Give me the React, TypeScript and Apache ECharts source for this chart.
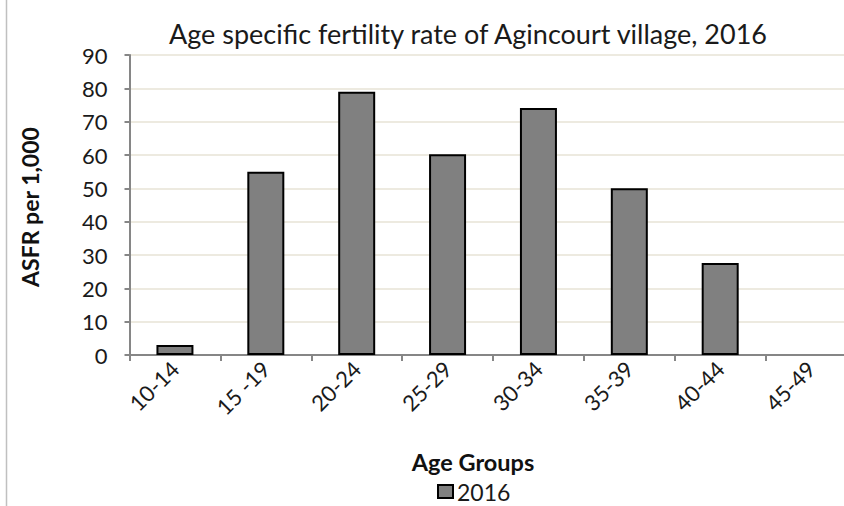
import React, { useEffect, useRef } from "react";
import * as echarts from "echarts";

const categories = ["10-14", "15 -19", "20-24", "25-29", "30-34", "35-39", "40-44", "45-49"];
const values2016 = [3, 55, 79, 60.2, 74.1, 50, 27.6, 0];
const seriesName = "2016";
const titleText = "Age specific fertility rate of Agincourt village, 2016";
const xName = "Age Groups";
const yName = "ASFR per 1,000";

const FONT = "Lato, 'Liberation Sans', sans-serif";

export default function App() {
  const ref = useRef<HTMLDivElement>(null);
  useEffect(() => {
    if (!ref.current) return;
    const chart = echarts.init(ref.current, null, { renderer: "svg" });
    chart.setOption({
      animation: false,
      backgroundColor: "#ffffff",
      title: {
        text: titleText,
        left: 463,
        textAlign: "center",
        top: 15,
        textStyle: { fontFamily: FONT, fontSize: 27, fontWeight: "normal", color: "#1a1a1a" },
      },
      legend: {
        data: [seriesName],
        left: 432,
        top: 475,
        itemWidth: 15,
        itemHeight: 13,
        itemGap: 6,
        icon: "rect",
        textStyle: { fontFamily: FONT, fontSize: 23, color: "#1a1a1a", padding: [0, 0, 0, -1] },
      },
      grid: { left: 129.5, top: 55, width: 727, height: 300, containLabel: false },
      xAxis: {
        type: "category",
        data: categories,
        axisLine: { lineStyle: { color: "#868686", width: 2 } },
        axisTick: { show: true, length: 6, lineStyle: { color: "#868686", width: 2 } },
        axisLabel: {
          rotate: 45,
          fontFamily: FONT,
          fontSize: 22,
          color: "#1a1a1a",
          margin: 10,
          interval: 0,
        },
      },
      yAxis: {
        type: "value",
        min: 0,
        max: 90,
        interval: 10,
        axisLine: { show: true, lineStyle: { color: "#868686", width: 2 } },
        axisTick: { show: true, length: 5, lineStyle: { color: "#868686", width: 2 } },
        axisLabel: { fontFamily: FONT, fontSize: 22, color: "#1a1a1a", margin: 22 },
        splitLine: { lineStyle: { color: "#EDEAE0", width: 2 } },
      },
      series: [
        {
          name: seriesName,
          type: "bar",
          data: values2016.map((v) => (v === 0 ? "-" : v)),
          barWidth: 37,
          itemStyle: { color: "#808080", borderColor: "#000", borderWidth: 2 },
        },
      ],
      graphic: [
        {
          type: "line",
          shape: { x1: 6.5, y1: 0, x2: 6.5, y2: 506 },
          style: { stroke: "#c0c0c0", lineWidth: 1.5 },
        },
        {
          type: "text",
          x: 473,
          y: 462,
          style: {
            text: xName,
            fontFamily: FONT,
            fontSize: 23.5,
            fontWeight: "bold",
            fill: "#111",
            align: "center",
            verticalAlign: "middle",
          },
        },
        {
          type: "text",
          x: 30,
          y: 207,
          rotation: Math.PI / 2,
          style: {
            text: yName,
            fontFamily: FONT,
            fontSize: 23,
            fontWeight: "bold",
            fill: "#111",
            align: "center",
            verticalAlign: "middle",
          },
        },
      ],
    });
    return () => chart.dispose();
  }, []);
  return (
    <div
      style={{
        position: "absolute",
        left: 0,
        top: 0,
        width: 844,
        height: 506,
        overflow: "hidden",
      }}
    >
      <div ref={ref} style={{ width: 870, height: 506 }} />
    </div>
  );
}
